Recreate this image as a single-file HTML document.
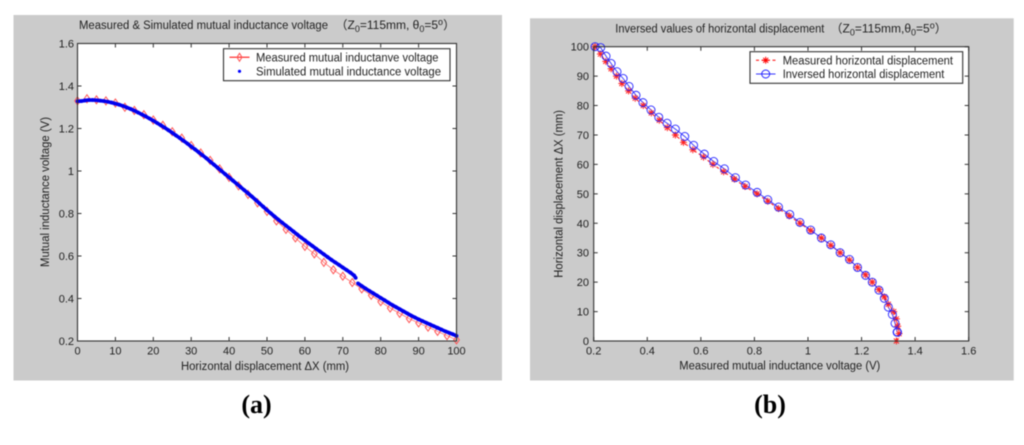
<!DOCTYPE html>
<html>
<head>
<meta charset="utf-8">
<title>Measured and inversed mutual inductance charts</title>
<style>
html,body{margin:0;padding:0;background:#fff;width:1024px;height:445px;overflow:hidden}
svg{display:block;filter:blur(0.45px)}
text{font-family:"Liberation Sans","Noto Sans CJK SC",sans-serif;fill:#222;font-size:11.5px}
.tick{font-size:11px}
.cap{font-family:"Liberation Serif",serif;font-weight:bold;font-size:26px;fill:#000}
</style>
</head>
<body>
<svg id="fig" xmlns="http://www.w3.org/2000/svg" width="1024" height="445" viewBox="0 0 1024 445">
  <rect x="0" y="0" width="1024" height="445" fill="#fff"/>

  <g id="panelA">
    <rect x="13.5" y="15" width="488.5" height="365.5" fill="#cbcbcb"/>
    <rect x="77.5" y="43.5" width="379" height="297.5" fill="#fff"/>
    <g id="axesA"></g>
    <g id="marksA"></g>
    <rect x="77.5" y="43.5" width="379" height="297.5" fill="none" stroke="#333" stroke-width="1.1"/>
    <text x="79" y="29" textLength="249" lengthAdjust="spacingAndGlyphs">Measured &amp; Simulated mutual inductance voltage</text>
    <text x="335.5" y="29" style="font-size:12px">（Z<tspan style="font-size:9px" dy="3">0</tspan><tspan dy="-3">=115mm, θ</tspan><tspan style="font-size:9px" dy="3">0</tspan><tspan dy="-3">=5</tspan><tspan style="font-size:9px" dy="-4">o</tspan><tspan dy="4">）</tspan></text>
    <text x="181" y="370" textLength="168" lengthAdjust="spacingAndGlyphs">Horizontal displacement ΔX (mm)</text>
    <text transform="translate(49,267) rotate(-90)" textLength="150" lengthAdjust="spacingAndGlyphs">Mutual inductance voltage (V)</text>
    <g>
      <rect x="223.5" y="48.7" width="226.5" height="32" fill="#fff" stroke="#333" stroke-width="1.1"/>
      <line x1="229.5" y1="57.3" x2="249.5" y2="57.3" stroke="#f00" stroke-width="1"/>
      <path d="M239.5 53.3L242 57.3L239.5 61.3L237 57.3Z" fill="none" stroke="#f55"/>
      <circle cx="239.5" cy="71.3" r="1.6" fill="#00f"/>
      <text x="256" y="61.3" textLength="182.5" lengthAdjust="spacingAndGlyphs">Measured mutual inductanve voltage</text>
      <text x="256" y="75.3" textLength="185" lengthAdjust="spacingAndGlyphs">Simulated mutual inductance voltage</text>
    </g>
    <text class="cap" x="256.5" y="413" text-anchor="middle">(a)</text>
  </g>

  <g id="panelB">
    <rect x="530" y="18.3" width="483.7" height="362.2" fill="#cbcbcb"/>
    <rect x="593.7" y="46.7" width="375" height="294.3" fill="#fff"/>
    <g id="axesB"></g>
    <g id="marksB"></g>
    <rect x="593.7" y="46.7" width="375" height="294.3" fill="none" stroke="#333" stroke-width="1.1"/>
    <text x="615.3" y="32.3" textLength="209" lengthAdjust="spacingAndGlyphs">Inversed values of horizontal displacement</text>
    <text x="830.5" y="32.3" style="font-size:12px">（Z<tspan style="font-size:9px" dy="3">0</tspan><tspan dy="-3">=115mm,θ</tspan><tspan style="font-size:9px" dy="3">0</tspan><tspan dy="-3">=5</tspan><tspan style="font-size:9px" dy="-4">o</tspan><tspan dy="4">）</tspan></text>
    <text x="679.3" y="369.3" textLength="201" lengthAdjust="spacingAndGlyphs">Measured mutual inductance voltage (V)</text>
    <text transform="translate(562.7,277.7) rotate(-90)" textLength="167.7" lengthAdjust="spacingAndGlyphs">Horizontal displacement ΔX (mm)</text>
    <g>
      <rect x="750" y="51.7" width="212.7" height="31.6" fill="#fff" stroke="#333" stroke-width="1.1"/>
      <line x1="756" y1="60.3" x2="775.5" y2="60.3" stroke="#f00" stroke-width="1" stroke-dasharray="3 2.5"/>
      <path d="M765.7 56.8V63.8M762.2 60.3H769.2M763.2 57.8L768.2 62.8M768.2 57.8L763.2 62.8" stroke="#f00" fill="none"/>
      <line x1="756" y1="74" x2="775.5" y2="74" stroke="#33f" stroke-width="1"/>
      <circle cx="765.7" cy="74" r="4" fill="none" stroke="#22f"/>
      <text x="782.7" y="64.3" textLength="170.3" lengthAdjust="spacingAndGlyphs">Measured horizontal displacement</text>
      <text x="782.7" y="78" textLength="161.7" lengthAdjust="spacingAndGlyphs">Inversed horizontal displacement</text>
    </g>
    <text class="cap" x="770" y="413" text-anchor="middle">(b)</text>
  </g>
</svg>
<script>
// Chart (a) and (b) tick labels
var displacementTicks = [0,10,20,30,40,50,60,70,80,90,100];
var voltageTicks = [0.2,0.4,0.6,0.8,1,1.2,1.4,1.6];

// Measured displacement (mm) and measured voltage (V)
var measuredDisplacement = [0,2.5,5,7.5,10,12.5,15,17.5,20,22.5,25,27.5,30,32.5,35,37.5,40,42.5,45,47.5,50,52.5,55,57.5,60,62.5,65,67.5,70,72.5,75,77.5,80,82.5,85,87.5,90,92.5,95,97.5,100];
var measuredVoltage = [1.33,1.34,1.335,1.33,1.32,1.30,1.285,1.265,1.24,1.215,1.185,1.155,1.12,1.085,1.05,1.01,0.97,0.93,0.89,0.85,0.81,0.765,0.725,0.685,0.645,0.61,0.57,0.535,0.505,0.475,0.445,0.415,0.385,0.355,0.33,0.305,0.285,0.265,0.245,0.225,0.205];

// Simulated series
var simulatedDisplacement = [0,1,2,3,4,5,6,7,8,9,10,11,12,13,14,15,16,17,18,19,20,21,22,23,24,25,26,27,28,29,30,31,32,33,34,35,36,37,38,39,40,41,42,43,44,45,46,47,48,49,50,51,52,53,54,55,56,57,58,59,60,61,62,63,64,65,66,67,68,69,70,71,72,73,73.4,74,75,76,77,78,79,80,81,82,83,84,85,86,87,88,89,90,91,92,93,94,95,96,97,98,99,100];
var simulatedVoltage = [1.328,1.329,1.332,1.334,1.334,1.333,1.331,1.329,1.326,1.322,1.317,1.312,1.306,1.299,1.292,1.284,1.275,1.266,1.257,1.247,1.237,1.226,1.215,1.204,1.192,1.18,1.167,1.155,1.142,1.129,1.115,1.102,1.088,1.074,1.06,1.045,1.03,1.015,1,0.985,0.97,0.955,0.94,0.925,0.91,0.895,0.88,0.864,0.848,0.832,0.816,0.801,0.786,0.771,0.757,0.743,0.729,0.715,0.701,0.687,0.674,0.66,0.647,0.634,0.621,0.608,0.595,0.582,0.57,0.558,0.546,0.534,0.522,0.508,0.497,0.471,0.459,0.447,0.436,0.425,0.414,0.403,0.392,0.381,0.37,0.36,0.35,0.34,0.33,0.32,0.311,0.302,0.294,0.286,0.278,0.27,0.262,0.254,0.246,0.239,0.232,0.224];
var simulatedBreakAfter = [73.4];

// Inversed series of chart (b)
var inversedVoltage = [0.205,0.226,0.246,0.265,0.287,0.31,0.332,0.358,0.384,0.414,0.443,0.474,0.505,0.54,0.573,0.613,0.648,0.688,0.729,0.767,0.81,0.85,0.89,0.932,0.97,1.01,1.05,1.085,1.12,1.155,1.185,1.215,1.24,1.265,1.285,1.3,1.315,1.325,1.333,1.333,1.334];
var inversedDisplacement = [100,99.7,96.8,94.3,91.5,89.2,86.5,83.5,81,78.5,76,74,72,69.5,66.5,63.5,61,58.5,55.5,53,50.5,48,45.5,43,40.3,37.7,35,32.7,30,27.7,25,22.3,20,17.3,14.5,11.5,9,6,3,3,3];

var NS = 'http://www.w3.org/2000/svg';
function scale(d0, d1, r0, r1) {
  return function (v) { return r0 + (v - d0) / (d1 - d0) * (r1 - r0); };
}
var ax = scale(0, 100, 77.5, 456.5);
var ay = scale(0.2, 1.6, 341, 43.5);
var bx = scale(0.2, 1.6, 593.7, 968.7);
var by = scale(0, 100, 341, 46.7);

function drawTicks(group, prefix, xVals, yVals, fx, fy, yLabelX) {
  var x0 = fx(xVals[0]), x1 = fx(xVals[xVals.length - 1]);
  var y0 = fy(yVals[0]), y1 = fy(yVals[yVals.length - 1]);
  var d = '';
  xVals.forEach(function (v) {
    var x = fx(v);
    d += 'M' + x + ' ' + y0 + 'v-4M' + x + ' ' + y1 + 'v4';
    var t = document.createElementNS(NS, 'text');
    
    
    t.setAttribute('class', 'tick');
    t.setAttribute('x', x);
    t.setAttribute('y', 354.7);
    t.setAttribute('text-anchor', 'middle');
    t.textContent = String(v);
    group.appendChild(t);
  });
  yVals.forEach(function (v) {
    var y = fy(v);
    d += 'M' + x0 + ' ' + y + 'h4M' + x1 + ' ' + y + 'h-4';
    var t = document.createElementNS(NS, 'text');
    
    
    t.setAttribute('class', 'tick');
    t.setAttribute('x', yLabelX);
    t.setAttribute('y', y + 4);
    t.setAttribute('text-anchor', 'end');
    t.textContent = String(v);
    group.appendChild(t);
  });
  var p = document.createElementNS(NS, 'path');
  
  
  p.setAttribute('d', d);
  p.setAttribute('stroke', '#333');
  p.setAttribute('fill', 'none');
  group.appendChild(p);
}

function linePath(xs, ys, fx, fy) {
  return xs.map(function (v, i) {
    return (i ? 'L' : 'M') + fx(v).toFixed(2) + ' ' + fy(ys[i]).toFixed(2);
  }).join('');
}

drawTicks(document.getElementById('axesA'), 'panel-a', displacementTicks, voltageTicks, ax, ay, 74);
drawTicks(document.getElementById('axesB'), 'panel-b', voltageTicks, displacementTicks, bx, by, 589);

// Chart (a): measured line and diamonds
var marksA = document.getElementById('marksA');
var lineA = document.createElementNS(NS, 'path');


lineA.setAttribute('d', linePath(measuredDisplacement, measuredVoltage, ax, ay));
lineA.setAttribute('fill', 'none');
lineA.setAttribute('stroke', '#f66');
lineA.setAttribute('stroke-width', '0.8');
marksA.appendChild(lineA);

measuredDisplacement.forEach(function (v, i) {
  var x = ax(v), y = ay(measuredVoltage[i]);
  var m = document.createElementNS(NS, 'path');
  
  
  m.setAttribute('d', 'M' + x + ' ' + (y - 4) + 'L' + (x + 2.8) + ' ' + y + 'L' + x + ' ' + (y + 4) + 'L' + (x - 2.8) + ' ' + y + 'Z');
  m.setAttribute('fill', 'none');
  m.setAttribute('stroke', '#f55');
  m.setAttribute('stroke-width', '1');
  marksA.appendChild(m);
});

// Dense simulated dots read as a continuous thick band, broken at one place
var simBand = document.createElementNS(NS, 'path');


simBand.setAttribute('d', simulatedDisplacement.map(function (v, i) {
  var restart = i === 0 || simulatedBreakAfter.indexOf(simulatedDisplacement[i - 1]) !== -1;
  return (restart ? 'M' : 'L') + ax(v).toFixed(2) + ' ' + ay(simulatedVoltage[i]).toFixed(2);
}).join(''));
simBand.setAttribute('fill', 'none');
simBand.setAttribute('stroke', '#00e');
simBand.setAttribute('stroke-width', '3.6');
simBand.setAttribute('stroke-linejoin', 'round');
marksA.appendChild(simBand);

simulatedDisplacement.forEach(function (v, i) {
  var c = document.createElementNS(NS, 'circle');
  
  
  c.setAttribute('cx', ax(v));
  c.setAttribute('cy', ay(simulatedVoltage[i]));
  c.setAttribute('r', '1.9');
  c.setAttribute('fill', '#00e');
  marksA.appendChild(c);
});

// Chart (b): measured dashed line and stars, inversed line and circles
var marksB = document.getElementById('marksB');
var lineB1 = document.createElementNS(NS, 'path');


lineB1.setAttribute('d', linePath(measuredVoltage, measuredDisplacement, bx, by));
lineB1.setAttribute('fill', 'none');
lineB1.setAttribute('stroke', '#f00');
lineB1.setAttribute('stroke-width', '0.9');
lineB1.setAttribute('stroke-dasharray', '3 2.5');
marksB.appendChild(lineB1);

var lineB2 = document.createElementNS(NS, 'path');


lineB2.setAttribute('d', linePath(inversedVoltage, inversedDisplacement, bx, by));
lineB2.setAttribute('fill', 'none');
lineB2.setAttribute('stroke', '#33f');
lineB2.setAttribute('stroke-width', '0.9');
marksB.appendChild(lineB2);

measuredVoltage.forEach(function (v, i) {
  var x = bx(v), y = by(measuredDisplacement[i]);
  var s = document.createElementNS(NS, 'path');
  
  
  s.setAttribute('d', 'M' + x + ' ' + (y - 3.5) + 'v7M' + (x - 3.5) + ' ' + y + 'h7M' + (x - 2.5) + ' ' + (y - 2.5) + 'l5 5M' + (x + 2.5) + ' ' + (y - 2.5) + 'l-5 5');
  s.setAttribute('fill', 'none');
  s.setAttribute('stroke', '#f22');
  s.setAttribute('stroke-width', '1');
  marksB.appendChild(s);
});

inversedVoltage.forEach(function (v, i) {
  var c = document.createElementNS(NS, 'circle');
  
  
  c.setAttribute('cx', bx(v));
  c.setAttribute('cy', by(inversedDisplacement[i]));
  c.setAttribute('r', '4');
  c.setAttribute('fill', 'none');
  c.setAttribute('stroke', '#22f');
  c.setAttribute('stroke-width', '0.9');
  marksB.appendChild(c);
});
</script>
</body>
</html>
